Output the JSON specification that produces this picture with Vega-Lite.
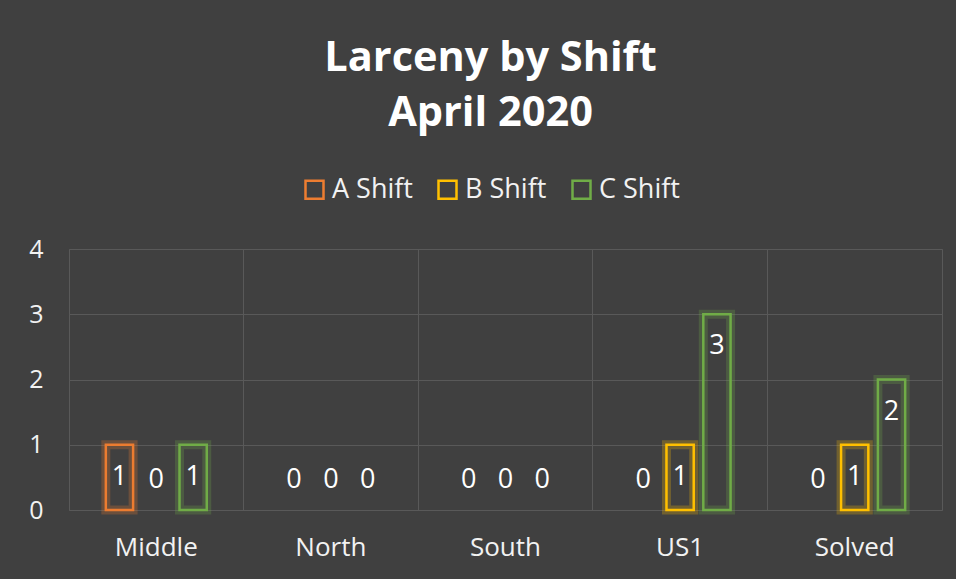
{
  "$schema": "https://vega.github.io/schema/vega-lite/v6.json",
  "width": 873,
  "height": 261,
  "autosize": "none",
  "padding": {"left": 69, "top": 249, "right": 14, "bottom": 69},
  "background": "#404040",
  "title": {
    "text": ["Larceny by Shift", "April 2020"],
    "font": "Open Sans",
    "fontSize": 41.5,
    "fontWeight": "bold",
    "color": "#ffffff",
    "lineHeight": 55,
    "anchor": "middle",
    "baseline": "bottom",
    "dx": -15,
    "offset": 0
  },
  "config": {
    "view": {"stroke": "#595959", "strokeWidth": 1},
    "font": "Open Sans"
  },
  "data": {
    "values": [
      {"area": "Middle", "shift": "A Shift", "count": 1},
      {"area": "Middle", "shift": "B Shift", "count": 0},
      {"area": "Middle", "shift": "C Shift", "count": 1},
      {"area": "North", "shift": "A Shift", "count": 0},
      {"area": "North", "shift": "B Shift", "count": 0},
      {"area": "North", "shift": "C Shift", "count": 0},
      {"area": "South", "shift": "A Shift", "count": 0},
      {"area": "South", "shift": "B Shift", "count": 0},
      {"area": "South", "shift": "C Shift", "count": 0},
      {"area": "US1", "shift": "A Shift", "count": 0},
      {"area": "US1", "shift": "B Shift", "count": 1},
      {"area": "US1", "shift": "C Shift", "count": 3},
      {"area": "Solved", "shift": "A Shift", "count": 0},
      {"area": "Solved", "shift": "B Shift", "count": 1},
      {"area": "Solved", "shift": "C Shift", "count": 2}
    ]
  },
  "encoding": {
    "x": {
      "field": "area",
      "type": "nominal",
      "sort": ["Middle", "North", "South", "US1", "Solved"],
      "scale": {"paddingInner": 0, "paddingOuter": 0},
      "axis": {
        "title": null,
        "labelAngle": 0,
        "labelFontSize": 26,
        "labelColor": "#f2f2f2",
        "labelPadding": 24,
        "domain": false,
        "ticks": false,
        "grid": true,
        "bandPosition": 0,
        "gridColor": "#595959",
        "gridWidth": 1
      }
    },
    "xOffset": {
      "field": "shift",
      "type": "nominal",
      "sort": ["A Shift", "B Shift", "C Shift"],
      "scale": {"domain": ["A Shift", "B Shift", "C Shift"], "paddingInner": 0.26, "paddingOuter": 1.1}
    },
    "y": {
      "field": "count",
      "type": "quantitative",
      "scale": {"domain": [0, 4], "nice": false},
      "axis": {
        "title": null,
        "values": [0, 1, 2, 3, 4],
        "labelFontSize": 25,
        "labelColor": "#f2f2f2",
        "labelPadding": 26,
        "domain": false,
        "ticks": false,
        "gridColor": "#595959",
        "gridWidth": 1
      }
    },
    "color": {
      "field": "shift",
      "type": "nominal",
      "scale": {"domain": ["A Shift", "B Shift", "C Shift"], "range": ["#ED7D31", "#FFC000", "#70AD47"]},
      "legend": {
        "orient": "none",
        "legendX": 232,
        "legendY": -73,
        "direction": "horizontal",
        "title": null,
        "symbolType": "square",
        "symbolSize": 324,
        "symbolStrokeWidth": 2.5,
        "symbolOpacity": 1,
        "symbolFillColor": "transparent",
        "labelFontSize": 27,
        "labelColor": "#f2f2f2",
        "labelOffset": 4,
        "columnPadding": 20
      }
    }
  },
  "layer": [
    {
      "transform": [{"filter": "datum.count > 0"}],
      "mark": {"type": "bar", "filled": false, "strokeWidth": 2.5}
    },
    {
      "transform": [{"filter": "datum.count > 0"}],
      "mark": {"type": "bar", "filled": false, "strokeWidth": 9, "strokeOpacity": 0.25}
    },
    {
      "transform": [{"filter": "datum.count > 0"}],
      "mark": {"type": "text", "dy": 32, "fontSize": 27, "color": "#ffffff", "baseline": "middle"},
      "encoding": {"text": {"field": "count", "type": "quantitative"}, "color": {"value": "#ffffff"}}
    },
    {
      "transform": [{"filter": "datum.count == 0"}],
      "mark": {"type": "text", "dy": -30, "fontSize": 27, "color": "#ffffff", "baseline": "middle"},
      "encoding": {"text": {"field": "count", "type": "quantitative"}, "color": {"value": "#ffffff"}}
    }
  ]
}
